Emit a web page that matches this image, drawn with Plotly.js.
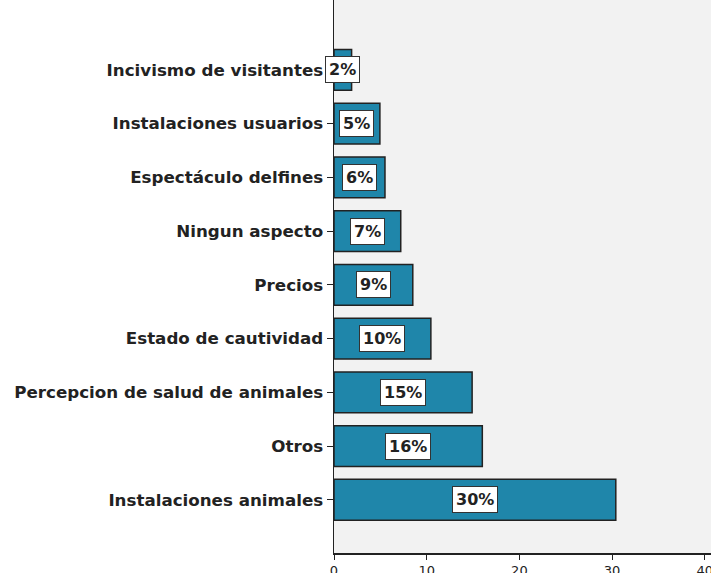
<!DOCTYPE html>
<html>
<head>
<meta charset="utf-8">
<script src="https://cdn.plot.ly/plotly-3.0.1.min.js"></script>
<style>html,body{margin:0;padding:0;background:#fff}#chart{width:711px;height:573px}</style>
</head>
<body>
<div id="chart"></div>
<script>
var categories = ["Instalaciones animales", "Otros", "Percepcion de salud de animales", "Estado de cautividad", "Precios", "Ningun aspecto", "Espectáculo delfines", "Instalaciones usuarios", "Incivismo de visitantes"];
var values = [30.4, 16.0, 14.9, 10.45, 8.5, 7.2, 5.5, 4.95, 1.9];
var pctLabels = ["30%", "16%", "15%", "10%", "9%", "7%", "6%", "5%", "2%"];
var xTicks = [0, 10, 20, 30, 40];

var trace = {
  type: "bar",
  orientation: "h",
  y: categories,
  x: values,
  width: 0.76,
  marker: {color: "#1f86aa", line: {color: "#222", width: 1.5}},
  hoverinfo: "none"
};

var annotations = categories.map(function (c, i) {
  return {
    x: values[i] / 2, y: c, xref: "x", yref: "y",
    text: pctLabels[i], showarrow: false,
    font: {family: "DejaVu Sans", size: 16, color: "#222", weight: "bold"},
    bgcolor: "#ffffff", bordercolor: "#333", borderwidth: 1, borderpad: 3
  };
});

var layout = {
  width: 711, height: 573,
  margin: {l: 334, r: 0, t: 0, b: 20, pad: 0},
  paper_bgcolor: "#ffffff",
  plot_bgcolor: "#f2f2f2",
  showlegend: false,
  bargap: 0.24,
  xaxis: {
    range: [0, 40.67], tickvals: xTicks, ticktext: xTicks.map(String),
    showgrid: false, zeroline: false, showline: true, linecolor: "#222", linewidth: 1.5,
    ticks: "outside", ticklen: 5, tickcolor: "#222", tickwidth: 1,
    ticklabeloverflow: "allow",
    tickfont: {family: "DejaVu Sans", size: 13, color: "#222"}, fixedrange: true
  },
  yaxis: {
    type: "category", categoryorder: "array", categoryarray: categories,
    range: [-0.99, 9.3],
    showgrid: false, zeroline: false, showline: true, linecolor: "#222", linewidth: 1.5,
    ticks: "outside", ticklen: 6, tickcolor: "#222", tickwidth: 1,
    tickfont: {family: "DejaVu Sans", size: 16.7, color: "#222", weight: "bold"}, fixedrange: true
  },
  annotations: annotations
};

Plotly.newPlot("chart", [trace], layout, {displayModeBar: false, staticPlot: true});
</script>
</body>
</html>
